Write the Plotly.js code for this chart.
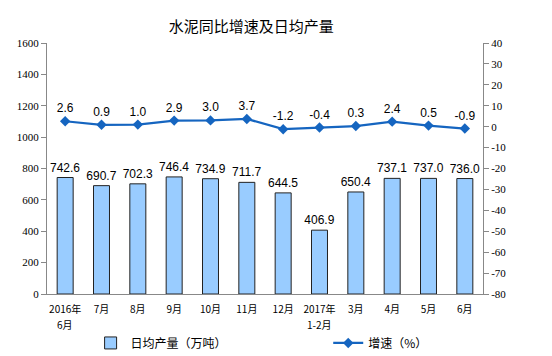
<!DOCTYPE html>
<html><head><meta charset="utf-8">
<script src="https://cdn.plot.ly/plotly-3.0.1.min.js"></script>
<style>body{margin:0;background:#fff}#c{width:552px;height:356px}</style>
</head><body><div id="c"></div>
<script>
const categories = ["2016年","7月","8月","9月","10月","11月","12月","2017年","3月","4月","5月","6月"];
const subLabels = ["6月","","","","","","","1-2月","","","",""];
const output = [742.6,690.7,702.3,746.4,734.9,711.7,644.5,406.9,650.4,737.1,737.0,736.0];
const growth = [2.6,0.9,1.0,2.9,3.0,3.7,-1.2,-0.4,0.3,2.4,0.5,-0.9];
const leftTicks = [0,200,400,600,800,1000,1200,1400,1600];
const rightTicks = [40,30,20,10,0,-10,-20,-30,-40,-50,-60,-70,-80];
const idx = categories.map((c,i)=>i);

const bar = {
  type:'bar', x:idx, y:output, name:'日均产量（万吨）',
  marker:{color:'#99ccff', line:{color:'#222', width:1}},
  width:0.44,
  text:output.map(v=>v.toFixed(1)), textposition:'outside', cliponaxis:false,
  constraintext:'none', textangle:0,
  textfont:{family:'Liberation Sans, Arial', size:12, color:'#000'},
  legend:'legend'
};
const line = {
  type:'scatter', mode:'lines+markers+text', x:idx, y:growth, yaxis:'y2', name:'增速（%）',
  line:{color:'#1565c0', width:2.2},
  marker:{symbol:'diamond', size:8, color:'#1565c0'},
  text:growth.map(v=>v.toFixed(1)), textposition:'top center', cliponaxis:false,
  textfont:{family:'Liberation Sans, Arial', size:12, color:'#000'},
  legend:'legend2'
};
const tickFont = {family:'Liberation Serif, Times New Roman, serif', size:11, color:'#000'};
const xFont = {family:'Noto Sans CJK SC', size:10, color:'#000'};
const annotations = idx.filter(i=>subLabels[i]).map(i=>({
  x:i, xref:'x', y:-0.122, yref:'paper', yanchor:'middle', xanchor:'center',
  text:subLabels[i], showarrow:false, font:xFont, borderpad:0
}));
const layout = {
  width:552, height:356,
  margin:{l:47, r:69, t:43, b:62, autoexpand:false},
  paper_bgcolor:'#fff', plot_bgcolor:'#fff',
  title:{text:'水泥同比增速及日均产量', x:0.455, xanchor:'center', y:0.925, yanchor:'middle',
    font:{family:'Noto Sans CJK SC', size:15, color:'#000'}},
  showlegend:true,
  annotations:annotations,
  xaxis:{range:[-0.5,11.5], tickvals:idx, ticktext:categories, showgrid:false,
    showline:true, linecolor:'#888', linewidth:1, ticks:'', zeroline:false,
    ticklabelstandoff:6, tickfont:xFont},
  yaxis:{range:[0,1600], tickvals:leftTicks, ticktext:leftTicks.map(String), showgrid:false, showline:true, linecolor:'#888',
    ticks:'outside', ticklen:5, tickcolor:'#888', zeroline:false, tickfont:tickFont},
  yaxis2:{range:[-80,40], tickvals:rightTicks, ticktext:rightTicks.map(String), overlaying:'y', side:'right', showgrid:false,
    showline:true, linecolor:'#888', ticks:'outside', ticklen:5, tickcolor:'#888',
    zeroline:false, tickfont:tickFont},
  legend:{x:0.1, y:-0.195, xanchor:'left', yanchor:'middle', orientation:'h',
    font:{family:'Noto Sans CJK SC', size:12, color:'#000'}, bgcolor:'rgba(0,0,0,0)'},
  legend2:{x:0.645, y:-0.195, xanchor:'left', yanchor:'middle', orientation:'h',
    font:{family:'Noto Sans CJK SC', size:12, color:'#000'}, bgcolor:'rgba(0,0,0,0)'}
};
Plotly.newPlot('c',[bar,line],layout,{displayModeBar:false});
</script></body></html>
